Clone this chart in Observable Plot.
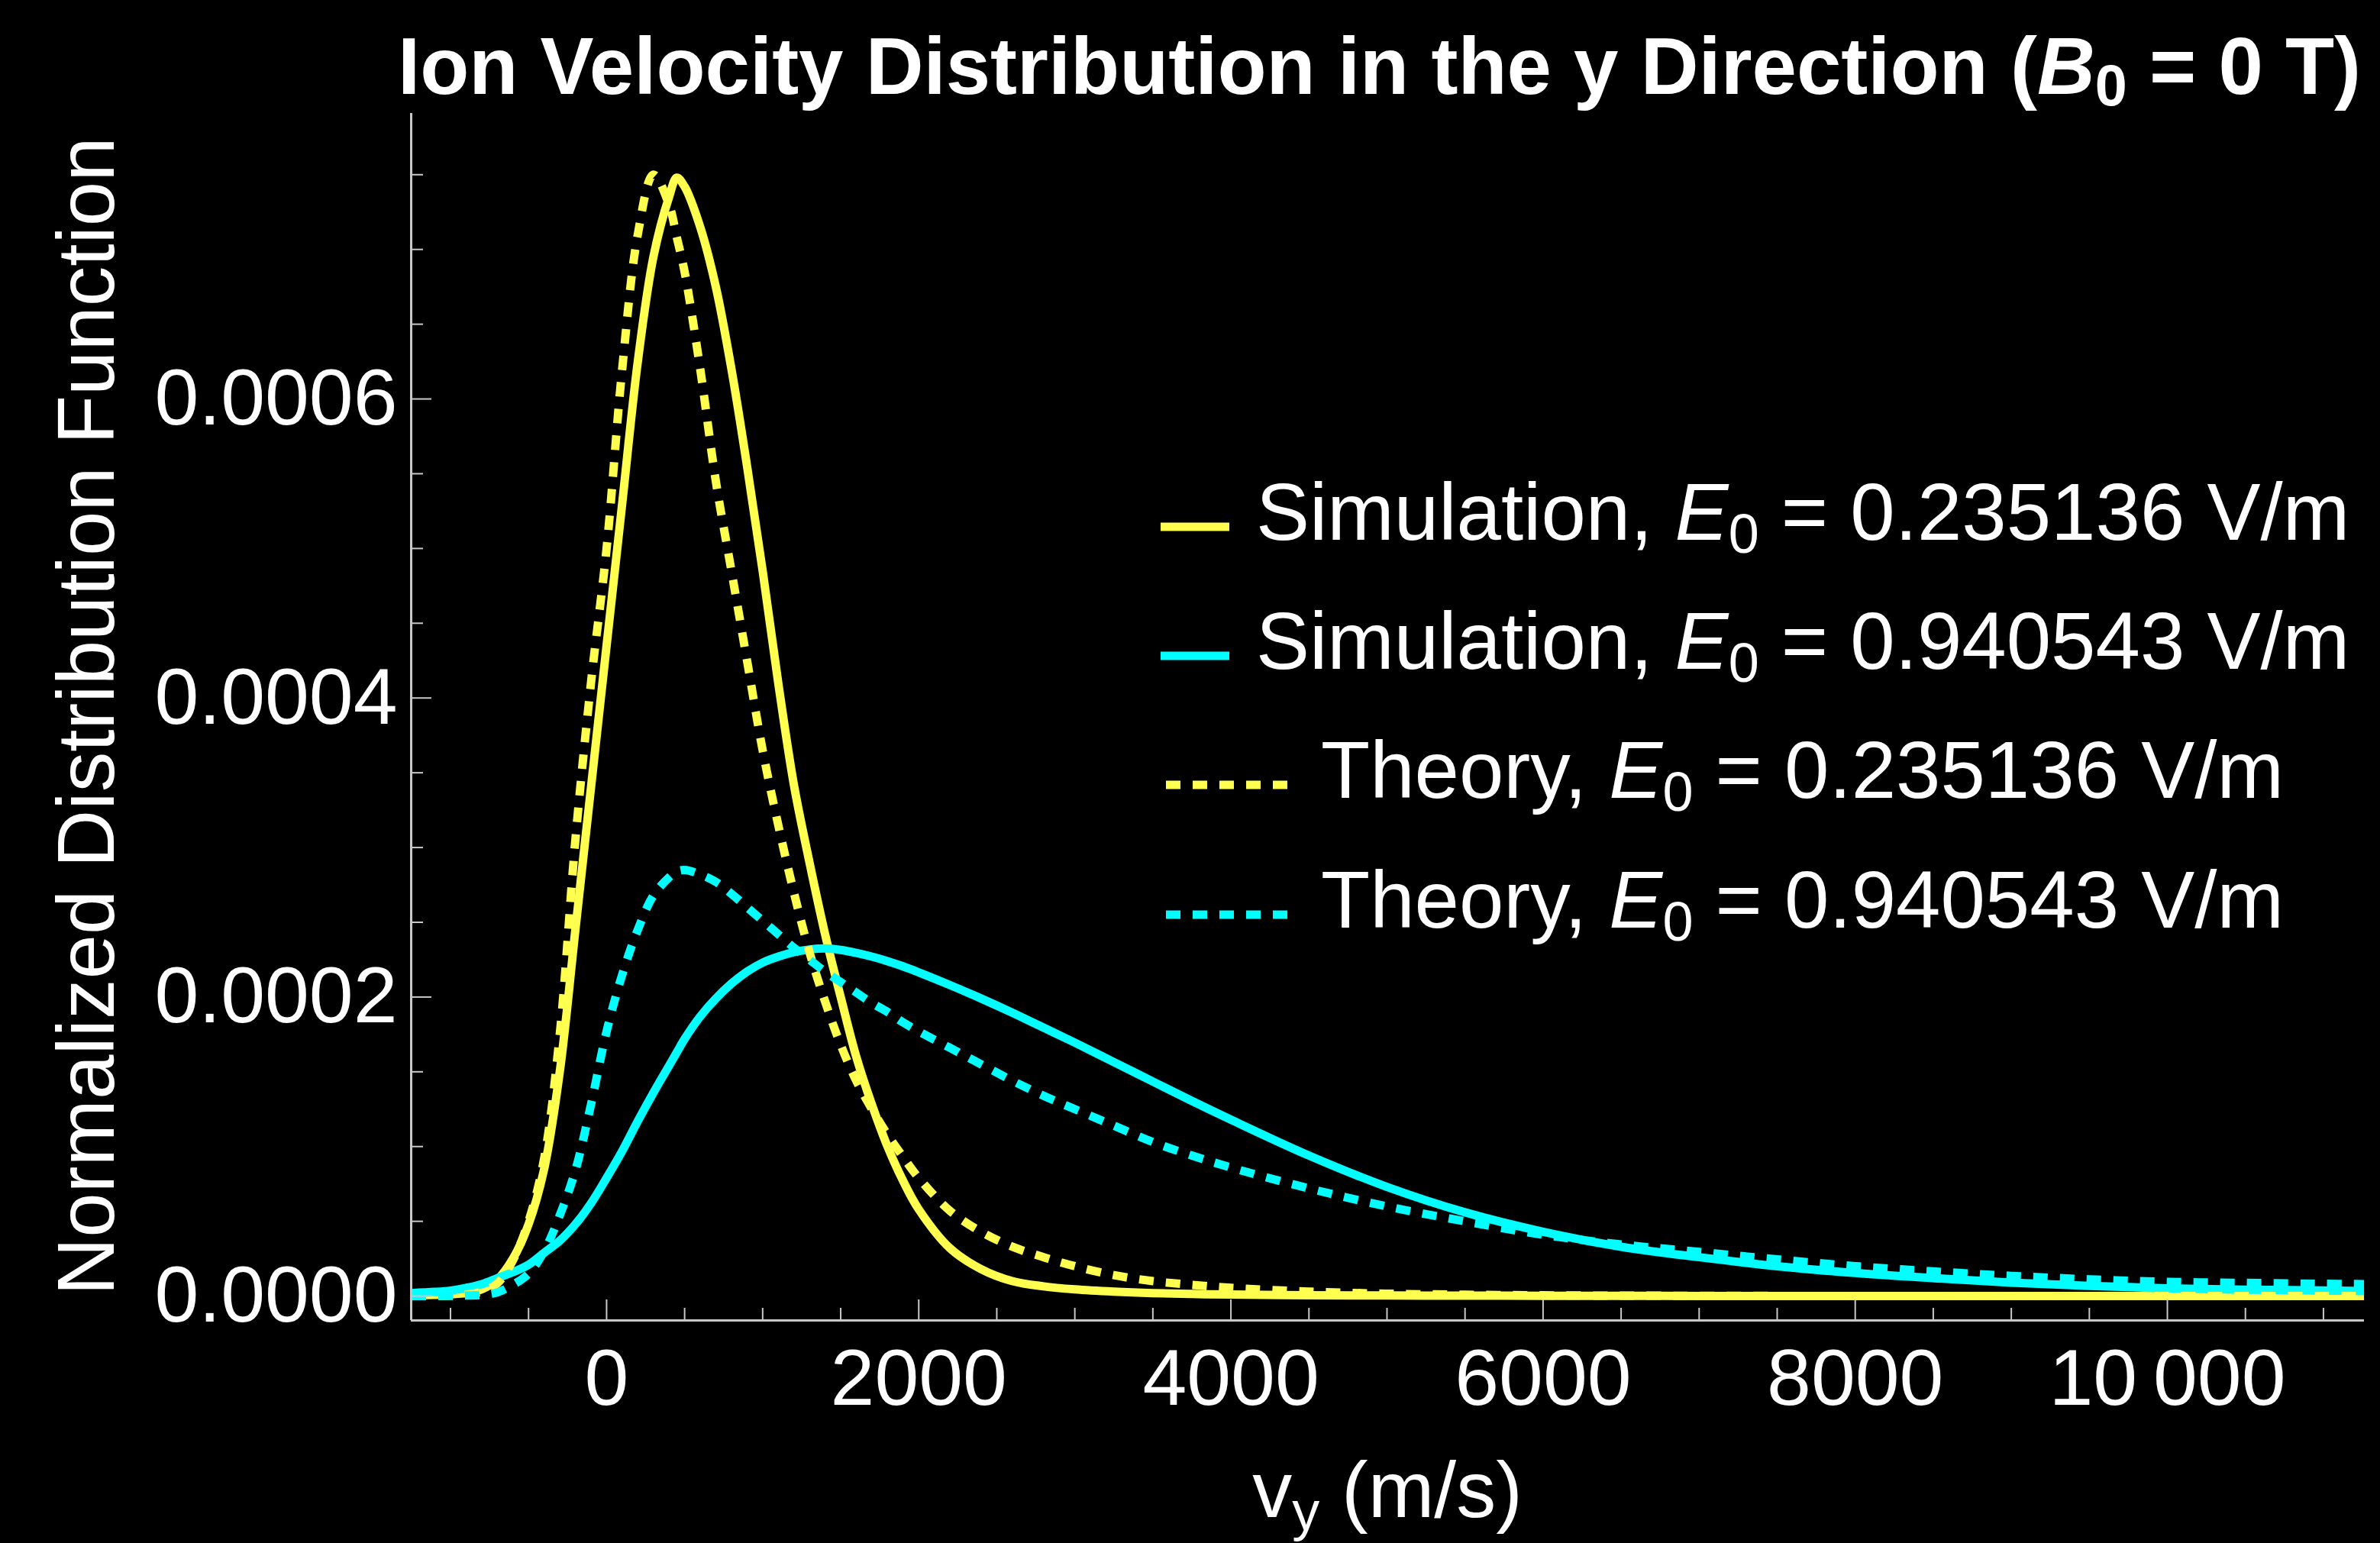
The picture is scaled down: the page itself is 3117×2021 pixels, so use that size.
<!DOCTYPE html>
<html>
<head>
<meta charset="utf-8">
<script src="https://cdn.jsdelivr.net/npm/d3@7"></script>
<script src="https://cdn.jsdelivr.net/npm/@observablehq/plot@0.6"></script>
<style>
html, body { margin: 0; padding: 0; background: #000; }
#chart { position: relative; width: 3117px; height: 2021px; background: #000; overflow: hidden;
  font-family: Arial, "Liberation Sans", sans-serif; }
#title { position: absolute; left: 521px; top: 34px; font-size: 105px; font-weight: bold; line-height: 1;
  color: #fff; white-space: nowrap; }
#title sub { font-size: 72%; vertical-align: baseline; position: relative; top: 0.2em; }
#chart svg { position: absolute; left: 0; top: 0; }
</style>
</head>
<body>
<div id="chart">
  <div id="title">Ion Velocity Distribution in the y Direction (<i>B</i><sub>0</sub> = 0 T)</div>
</div>
<script>
// velocity grid (m/s)
const velocity = [-1250, -1100, -1000, -900, -800, -700, -600, -500, -400, -300, -200, -100,
  0, 100, 200, 300, 400, 450, 500, 600, 700, 800, 900, 1000, 1100, 1200, 1300, 1400, 1500,
  1600, 1700, 1800, 1900, 2000, 2200, 2400, 2600, 2800, 3000, 3250, 3500, 3750, 4000,
  4500, 5000, 5500, 6000, 6500, 7000, 7500, 8000, 8500, 9000, 9500, 10000, 10500, 11000, 11260];

// distribution values in units of 1e-4 (s/m)
const simLow = [0.005, 0.008, 0.012, 0.02, 0.045, 0.11, 0.25, 0.48, 0.85, 1.5, 2.45, 3.4,
  4.35, 5.3, 6.25, 6.95, 7.35, 7.48, 7.42, 7.15, 6.75, 6.2, 5.55, 4.85, 4.1, 3.42, 2.9, 2.42, 2.0,
  1.6, 1.28, 1.0, 0.77, 0.58, 0.32, 0.18, 0.1, 0.065, 0.045, 0.03, 0.02, 0.014, 0.01,
  0.006, 0.004, 0.003, 0.002, 0.002, 0.001, 0.001, 0.001, 0.001, 0.001, 0.001, 0.001, 0.001, 0.001, 0.001];

const simHigh = [0.02, 0.028, 0.037, 0.055, 0.08, 0.12, 0.16, 0.21, 0.29, 0.37, 0.48, 0.62,
  0.79, 0.97, 1.17, 1.36, 1.54, 1.63, 1.72, 1.87, 1.99, 2.09, 2.17, 2.23, 2.27, 2.3, 2.318, 2.325, 2.315,
  2.295, 2.27, 2.24, 2.205, 2.165, 2.08, 1.99, 1.895, 1.795, 1.695, 1.565, 1.435, 1.305, 1.18,
  0.94, 0.73, 0.56, 0.43, 0.33, 0.26, 0.2, 0.155, 0.12, 0.09, 0.068, 0.052, 0.043, 0.037, 0.034];

const theoryLow = [0.0005, 0.001, 0.003, 0.01, 0.03, 0.085, 0.24, 0.5, 0.92, 1.75, 3.05, 4.1,
  5.0, 6.2, 7.1, 7.5, 7.3, 7.08, 6.85, 6.2, 5.45, 4.85, 4.25, 3.65, 3.15, 2.7, 2.3, 1.97, 1.68,
  1.44, 1.25, 1.08, 0.93, 0.79, 0.57, 0.43, 0.33, 0.26, 0.2, 0.14, 0.1, 0.075, 0.055,
  0.03, 0.016, 0.009, 0.005, 0.003, 0.002, 0.001, 0.001, 0.001, 0.001, 0.001, 0.001, 0.001, 0.001, 0.001];

const theoryHigh = [0.0, 0.001, 0.002, 0.004, 0.008, 0.025, 0.075, 0.15, 0.3, 0.54, 0.84, 1.28,
  1.77, 2.15, 2.45, 2.68, 2.8, 2.84, 2.85, 2.82, 2.77, 2.69, 2.6, 2.51, 2.42, 2.33, 2.25, 2.17, 2.1,
  2.03, 1.96, 1.9, 1.83, 1.77, 1.66, 1.55, 1.44, 1.34, 1.25, 1.14, 1.03, 0.94, 0.86,
  0.72, 0.6, 0.5, 0.41, 0.345, 0.295, 0.245, 0.2, 0.165, 0.135, 0.112, 0.095, 0.088, 0.082, 0.08];

const seriesKinds = ["Simulation", "Simulation", "Theory", "Theory"];
const fieldLabels = ["0.235136", "0.940543", "0.235136", "0.940543"];
const seriesColors = ["#ffff50", "#00ffff", "#ffff50", "#00ffff"];
const seriesDashed = [false, false, true, true];

const xMajor = [0, 2000, 4000, 6000, 8000, 10000];
const xMinor = [-1000, -500, 500, 1000, 1500, 2500, 3000, 3500, 4500, 5000, 5500, 6500, 7000, 7500,
  8500, 9000, 9500, 10500, 11000];
const yMajor = [0, 0.0002, 0.0004, 0.0006];
const yMinor = [0.00005, 0.0001, 0.00015, 0.00025, 0.0003, 0.00035, 0.00045, 0.0005, 0.00055,
  0.00065, 0.0007, 0.00075];
const xDomain = [-1252, 11262];
const yDomain = [-0.0000163, 0.000791];

const seriesValues = [simLow, simHigh, theoryLow, theoryHigh];
const tables = seriesValues.map(vals => velocity.map((v, i) => ({x: v, y: vals[i] * 1e-4})));

const axisStroke = "#c8c8c8";
const fmtX = d => Math.abs(d) >= 10000 ? d3.format(",")(d).replace(/,/g, "\u2009") : String(d);
const fmtY = d => d.toFixed(4);

const lineMarks = tables.map((t, i) => Plot.line(t, {
  x: "x", y: "y", stroke: seriesColors[i], strokeWidth: 11, curve: "catmull-rom",
  strokeDasharray: seriesDashed[i] ? "19,16" : null, strokeLinecap: "butt", strokeLinejoin: "round"
}));

const plot = Plot.plot({
  width: 3117, height: 2021,
  marginLeft: 538, marginRight: 21, marginTop: 148, marginBottom: 292,
  style: {background: "transparent", color: "#fff", fontFamily: "Arial, 'Liberation Sans', sans-serif",
    fontSize: "104px", overflow: "visible"},
  x: {domain: xDomain},
  y: {domain: yDomain},
  marks: [
    ...lineMarks,
    Plot.ruleY([yDomain[0]], {stroke: axisStroke, strokeWidth: 3}),
    Plot.ruleX([xDomain[0]], {stroke: axisStroke, strokeWidth: 3}),
    Plot.axisX({ticks: xMajor, tickSize: -27, tickFormat: () => "", stroke: axisStroke, strokeWidth: 2, label: null}),
    Plot.axisX({ticks: xMinor, tickSize: -16, tickFormat: () => "", stroke: axisStroke, strokeWidth: 2, label: null}),
    Plot.axisX({ticks: xMajor, tickSize: 0, tickPadding: 37, tickFormat: fmtX, label: null, fontSize: 104, fill: "#fff"}),
    Plot.axisY({ticks: yMajor, tickSize: -27, tickFormat: () => "", stroke: axisStroke, strokeWidth: 2, label: null}),
    Plot.axisY({ticks: yMinor, tickSize: -16, tickFormat: () => "", stroke: axisStroke, strokeWidth: 2, label: null}),
    Plot.axisY({ticks: yMajor, tickSize: 0, tickPadding: 18, tickFormat: fmtY, label: null, fontSize: 104, fill: "#fff"})
  ]
});

document.getElementById("chart").appendChild(plot);

const svg = d3.select(plot);
const font = "Arial, 'Liberation Sans', sans-serif";

// x axis label
const xl = svg.append("text").attr("x", 1817).attr("y", 1987).attr("text-anchor", "middle")
  .attr("fill", "#fff").attr("font-size", 104).attr("font-family", font);
xl.append("tspan").text("v");
xl.append("tspan").attr("font-size", 72).attr("dy", 17).text("y");
xl.append("tspan").attr("dy", -17).text(" (m/s)");

// y axis label
svg.append("text").attr("transform", "translate(149,938) rotate(-90)").attr("text-anchor", "middle")
  .attr("fill", "#fff").attr("font-size", 105).attr("font-family", font)
  .text("Normalized Distribution Function");

// legend
const legendBaselines = [707, 876, 1045, 1215];
const legend = svg.append("g").attr("text-anchor", "start");
seriesKinds.forEach((kind, i) => {
  const yb = legendBaselines[i];
  const dashed = seriesDashed[i];
  legend.append("line")
    .attr("x1", dashed ? 1527 : 1520).attr("x2", dashed ? 1686 : 1610)
    .attr("y1", yb - 17).attr("y2", yb - 17)
    .attr("stroke", seriesColors[i]).attr("stroke-width", 11)
    .attr("stroke-dasharray", dashed ? "19,16" : null);
  const t = legend.append("text").attr("x", dashed ? 1730 : 1645).attr("y", yb)
    .attr("text-anchor", "start")
    .attr("fill", "#fff").attr("font-size", 105).attr("font-family", font);
  t.append("tspan").text(kind + ", ");
  t.append("tspan").attr("font-style", "italic").text("E");
  t.append("tspan").attr("font-size", 72).attr("dy", 17).text("0");
  t.append("tspan").attr("dy", -17).text(" = " + fieldLabels[i] + " V/m");
});
</script>
</body>
</html>
